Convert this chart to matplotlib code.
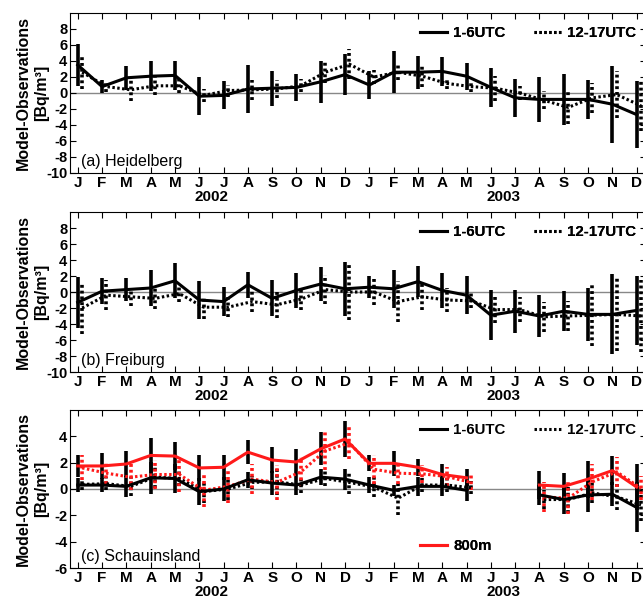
import numpy as np
import matplotlib
matplotlib.use("Agg")
from matplotlib import pyplot as plt
from matplotlib.transforms import blended_transform_factory

plt.rcParams['font.family'] = ['Liberation Sans', 'DejaVu Sans']
plt.rcParams['axes.unicode_minus'] = False

nan = np.nan
months = ['J', 'F', 'M', 'A', 'M', 'J', 'J', 'A', 'S', 'O', 'N', 'D'] * 2
years = ['2002', '2003']

# (a) Heidelberg
a_night = [3.5, 0.8, 1.9, 2.1, 2.2, -0.4, -0.3, 0.5, 0.6, 0.7, 1.4, 2.3,
           1.0, 2.6, 2.6, 2.7, 2.1, 0.7, -0.6, -0.8, -0.8, -0.8, -1.4, -2.7]
a_night_sd = [2.6, 0.8, 1.5, 1.9, 1.8, 2.35, 1.75, 3.0, 2.2, 1.7, 2.6, 2.55,
              1.75, 2.6, 2.05, 1.85, 1.7, 2.4, 2.35, 2.8, 3.2, 2.45, 4.8, 4.15]
a_day = [2.6, 0.8, 0.4, 0.9, 0.9, -0.3, 0.3, 0.4, 0.5, 0.9, 2.6, 3.6,
         2.0, 2.6, 2.1, 1.2, 0.8, 0.6, 0.0, -0.9, -1.8, -0.6, -0.2, -1.6]
a_day_sd = [2.15, 0.65, 1.45, 1.15, 0.95, 0.8, 0.75, 1.25, 1.15, 0.8, 1.3, 1.85,
            0.9, 1.0, 1.35, 0.65, 0.7, 1.55, 0.85, 1.1, 2.1, 1.85, 2.9, 3.15]

# (b) Freiburg
b_night = [-1.3, 0.1, 0.3, 0.5, 1.4, -1.0, -1.2, 0.9, -0.8, 0.2, 1.0, 0.4,
           0.6, 0.4, 1.3, 0.2, -0.4, -2.9, -2.4, -3.0, -2.4, -2.8, -2.8, -2.3]
b_night_sd = [3.2, 1.65, 1.4, 2.3, 2.2, 2.4, 1.85, 1.65, 2.25, 2.2, 2.15, 3.35,
              1.35, 2.35, 1.95, 2.2, 2.4, 3.1, 2.7, 2.6, 2.5, 3.35, 5.0, 4.3]
b_day = [-2.0, -0.4, -0.6, -0.8, -0.2, -1.9, -1.9, -1.2, -1.6, -0.9, 0.3, 0.0,
         0.0, -1.2, -0.6, -1.0, -1.1, -2.2, -2.2, -3.1, -3.0, -2.9, -2.8, -3.0]
b_day_sd = [3.2, 1.9, 1.15, 1.35, 1.1, 1.45, 1.25, 1.35, 1.6, 1.4, 1.85, 3.45,
            1.6, 2.6, 1.7, 1.5, 0.95, 1.65, 1.6, 1.85, 1.9, 3.9, 4.6, 4.45]

# (c) Schauinsland, black = standard run, red = 800m
c_night = [0.3, 0.3, 0.2, 0.85, 0.8, -0.2, 0.0, 0.7, 0.45, 0.3, 0.9, 0.75,
           0.3, -0.1, 0.2, 0.2, -0.1, nan, nan, -0.45, -0.8, -0.45, -0.4, -1.4]
c_night_sd = [0.5, 0.5, 0.8, 1.2, 1.1, 1.0, 0.9, 0.6, 0.9, 0.75, 0.6, 0.8,
              0.6, 0.4, 0.7, 0.7, 0.8, nan, nan, 0.75, 1.1, 1.3, 0.9, 1.9]
c_day = [0.35, 0.4, 0.2, 0.9, 0.8, -0.2, 0.0, 0.5, 0.55, 0.3, 0.8, 0.5,
         0.15, -0.7, 0.3, 0.3, 0.1, nan, nan, -0.8, -0.8, -0.3, -0.6, -1.2]
c_day_sd = [0.4, 0.5, 0.7, 0.8, 0.6, 0.9, 0.8, 0.5, 1.0, 0.6, 0.6, 0.9,
            0.75, 1.3, 0.5, 0.5, 0.5, nan, nan, 0.7, 1.0, 0.8, 1.0, 1.2]
c800_night = [1.75, 1.75, 1.9, 2.55, 2.5, 1.6, 1.65, 2.8, 2.2, 2.05, 3.05, 3.8,
              1.95, 1.95, 1.65, 1.1, 0.85, nan, nan, 0.3, 0.2, 0.75, 1.4, 0.15]
c800_night_sd = [0.85, 1.0, 1.0, 1.35, 1.05, 1.0, 0.95, 0.9, 1.0, 1.0, 1.25, 1.4,
                 0.6, 0.95, 0.65, 0.8, 0.65, nan, nan, 1.05, 1.05, 1.4, 1.1, 1.75]
c800_day = [1.6, 1.2, 0.9, 1.1, 1.1, -0.1, 0.2, 0.75, 0.5, 1.3, 2.9, 3.5,
            1.5, 1.2, 1.15, 0.95, 0.5, nan, nan, -0.6, -0.7, 0.55, 1.3, 0.05]
c800_day_sd = [0.95, 0.85, 1.0, 1.1, 1.3, 1.25, 1.3, 1.15, 1.35, 1.1, 1.45, 1.25,
               1.1, 0.8, 0.7, 0.7, 0.6, nan, nan, 1.15, 1.2, 1.35, 1.15, 0.9]

x = np.arange(24)
shift = 0.18
dots = (0, (0.8, 0.8))
lw = 2.2
elw = 2.6
W, H = 643.0, 600.0


def bars(ax, xs, y, sd, color, style):
    eb = ax.errorbar(xs, y, yerr=sd, fmt='none', ecolor=color,
                     elinewidth=elw, capsize=0, zorder=2)
    eb[2][0].set_linestyle(style)


def setup(ax, ylim, yticks, label):
    ax.set_xlim(-0.32, 23.4)
    ax.set_ylim(*ylim)
    ax.axhline(0, color='#888888', lw=1.0, zorder=1)
    ax.set_xticks(x)
    ax.set_xticklabels(months, fontsize=11, fontweight='bold')
    ax.set_yticks(yticks)
    ax.set_yticklabels([str(t) for t in yticks], fontsize=10.5, fontweight='bold')
    ax.tick_params(direction='in', top=True, right=True, length=4, pad=2)
    for sp in ax.spines.values():
        sp.set_linewidth(0.8)
    trans = blended_transform_factory(ax.transData, ax.transAxes)
    for xp, yr in zip([5.5, 17.5], years):
        ax.annotate(yr, xy=(xp, 0), xycoords=trans, xytext=(0, -17.5),
                    textcoords='offset points', ha='center', va='center',
                    fontsize=11, fontweight='bold')
    ax.text(0.019, 0.025, label, transform=ax.transAxes, fontsize=11.5,
            ha='left', va='bottom')
    ax.set_ylabel('Model-Observations\n[Bq/m³]', fontsize=11.5,
                  fontweight='bold', linespacing=1.3)
    ax.yaxis.set_label_coords(-0.036, 0.5)


def legend(ax, handles, labels, ypix):
    leg = ax.legend(handles, labels, ncol=2, frameon=False, loc='center left',
                    bbox_to_anchor=((420 - 70) / 576.4, 1 - ypix / 160.0),
                    borderpad=0, borderaxespad=0, handlelength=1.8,
                    handletextpad=0.4, columnspacing=1.9,
                    prop={'weight': 'bold', 'size': 10.8})
    ax.add_artist(leg)
    return leg


fig = plt.figure(figsize=(6.43, 6.0), dpi=100)
left = 70 / W
width = 576.4 / W
ax_a = fig.add_axes([left, 1 - 173 / H, width, 160 / H])
ax_b = fig.add_axes([left, 1 - 372 / H, width, 160 / H])
ax_c = fig.add_axes([left, 1 - 568 / H, width, 158 / H])

for ax, night, night_sd, day, day_sd, lab in [
        (ax_a, a_night, a_night_sd, a_day, a_day_sd, '(a) Heidelberg'),
        (ax_b, b_night, b_night_sd, b_day, b_day_sd, '(b) Freiburg')]:
    bars(ax, x, night, night_sd, 'black', '-')
    bars(ax, x + shift, day, day_sd, 'black', dots)
    l1, = ax.plot(x, night, color='black', lw=lw, zorder=4)
    l2, = ax.plot(x + shift, day, color='black', lw=lw, ls=dots, zorder=3)
    setup(ax, (-10, 10), list(range(-10, 10, 2)), lab)
    legend(ax, [l1, l2], ['1-6UTC', '12-17UTC'], 20)

ax = ax_c
bars(ax, x, c_night, c_night_sd, 'black', '-')
bars(ax, x, c800_night, c800_night_sd, 'black', '-')
bars(ax, x + shift, c_day, c_day_sd, 'black', dots)
bars(ax, x + shift, c800_day, c800_day_sd, '#ff1a1a', dots)
l1, = ax.plot(x, c_night, color='black', lw=lw, zorder=4)
l2, = ax.plot(x + shift, c_day, color='black', lw=lw, ls=dots, zorder=3)
ax.plot(x + shift, c800_day, color='#ff1a1a', lw=lw, ls=dots, zorder=3)
l3, = ax.plot(x, c800_night, color='#ff1a1a', lw=lw, zorder=5)
setup(ax, (-6, 6), list(range(-6, 6, 2)), '(c) Schauinsland')
legend(ax, [l1, l2], ['1-6UTC', '12-17UTC'], 20)
legend(ax, [l3], ['800m'], 138)

fig.savefig('out.png', dpi=100)
